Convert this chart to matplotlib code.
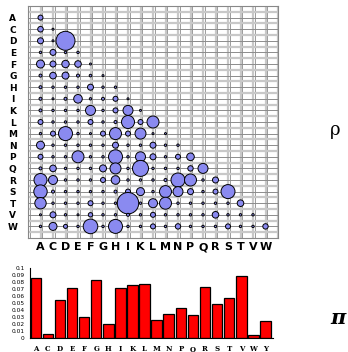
import numpy as np
import matplotlib.pyplot as plt

# amino acid labels
aa = ["A", "C", "D", "E", "F", "G", "H", "I", "K", "L",
      "M", "N", "P", "Q", "R", "S", "T", "V", "W"]
aa_bar = aa + ["Y"]

rho = [
    [2.5],
    [2.8, 1.0],
    [3.0, 1.0, 9.5],
    [1.2, 3.0, 1.2, 1.2],
    [4.0, 3.0, 3.7, 3.3, 1.0],
    [1.5, 3.3, 3.5, 1.5, 1.3, 1.0],
    [1.5, 1.2, 1.2, 1.2, 3.0, 1.2, 1.2],
    [1.5, 1.0, 1.5, 4.3, 1.2, 1.5, 2.5, 1.0],
    [1.5, 1.2, 1.2, 1.2, 5.0, 1.2, 2.5, 5.0, 1.0],
    [2.5, 1.2, 1.2, 1.2, 2.5, 1.2, 1.5, 6.5, 2.5, 6.0],
    [1.2, 2.5, 7.0, 1.2, 1.0, 2.5, 6.0, 2.5, 5.5, 1.0, 1.0],
    [4.0, 1.2, 1.2, 1.2, 1.2, 1.2, 3.0, 1.2, 1.2, 3.0, 1.2, 1.2],
    [2.5, 1.2, 1.2, 6.0, 1.2, 1.2, 7.0, 1.2, 5.0, 3.0, 1.2, 2.5, 3.8],
    [1.5, 3.3, 1.2, 1.2, 1.2, 3.5, 5.5, 1.2, 8.0, 1.2, 1.2, 1.2, 2.7, 5.0],
    [6.5, 4.5, 1.2, 1.2, 1.2, 2.5, 4.3, 1.2, 1.2, 1.2, 1.5, 7.0, 6.0, 1.2, 3.0],
    [6.7, 1.5, 1.2, 1.2, 1.2, 1.2, 1.5, 2.5, 4.0, 1.2, 6.0, 5.0, 3.0, 1.2, 2.5, 7.0],
    [5.7, 1.2, 1.2, 1.2, 2.5, 1.2, 1.2, 10.7, 1.2, 4.5, 6.0, 1.2, 1.2, 1.2, 1.2, 1.2, 3.3],
    [1.0, 3.0, 1.2, 1.0, 2.2, 1.2, 1.2, 1.5, 1.2, 2.5, 1.2, 1.2, 1.2, 1.2, 3.3, 1.2, 1.2, 1.2],
    [1.2, 4.0, 2.0, 1.2, 7.3, 1.2, 7.0, 1.2, 1.2, 2.5, 1.2, 2.7, 1.2, 1.2, 1.2, 2.5, 1.2, 1.2, 2.7],
]

# pi: frequencies
pi_freq = [0.0867, 0.0057, 0.0543, 0.0714, 0.0300, 0.0838, 0.0205, 0.0714,
           0.0767, 0.0776, 0.0252, 0.0343, 0.0429, 0.0333, 0.0729, 0.0486,
           0.0581, 0.0890, 0.0048, 0.0248]

W, H = 348, 352
fig = plt.figure(figsize=(W / 100, H / 100), dpi=100)

# bubble matrix
ax = fig.add_axes([28 / W, 1 - 238 / H, 250 / W, 232 / H])
ax.set_xlim(-1, 19)
ax.set_ylim(19, -1)
for v in np.arange(-1, 19.01, 1):
    ax.axvline(v, color="#c8c8c8", lw=1.6, zorder=0)
    ax.axvline(v + 0.12, color="#8c8c8c", lw=0.6, zorder=0)
for h in np.arange(-1, 19.01, 0.5):
    if h % 1 == 0:
        ax.axhline(h, color="#8c8c8c", lw=0.7, zorder=0)
    else:
        ax.axhline(h, color="#c8c8c8", lw=1.6, zorder=0)

xs, ys, ss = [], [], []
for i, row in enumerate(rho):
    for j, r in enumerate(row):
        xs.append(j)
        ys.append(i)
        ss.append((1.44 * r) ** 2)
ax.scatter(xs, ys, s=ss, c="#8a8af0", edgecolors="black", linewidths=0.7,
           zorder=3)

ax.set_xticks(range(len(aa)))
ax.set_xticklabels(aa, fontsize=8, fontweight="bold")
ax.set_yticks(range(len(aa)))
ax.set_yticklabels(aa, fontsize=6.5, fontweight="bold", ha="center")
ax.tick_params(axis="x", length=0, pad=3)
ax.tick_params(axis="y", length=0, pad=11)
for s in ax.spines.values():
    s.set_color("#888888")
    s.set_linewidth(0.8)

# frequency bars
bx = fig.add_axes([30 / W, 1 - 338 / H, 242.7 / W, 69.7 / H])
bx.bar(range(len(aa_bar)), pi_freq, width=0.87, color="#ff0000",
       edgecolor="black", linewidth=0.9)
bx.set_xlim(-0.48, 19.6)
bx.set_ylim(0, 0.1)
yt = np.linspace(0, 0.1, 11)
bx.set_yticks(yt)
bx.set_yticklabels([f"{round(t, 2):g}" for t in yt], fontsize=4.2)
bx.set_xticks(range(len(aa_bar)))
bx.set_xticklabels(aa_bar, fontsize=5, fontweight="bold", family="DejaVu Serif")
bx.tick_params(axis="y", length=0, pad=4)
bx.tick_params(axis="x", length=0, pad=5)
bx.spines["top"].set_visible(False)
bx.spines["right"].set_visible(False)

fig.text(335 / W, 1 - 130 / H, "ρ", fontsize=13, family="DejaVu Serif",
         ha="center", va="center")
fig.text(338 / W, 1 - 318 / H, "π", fontsize=15, family="DejaVu Serif",
         style="italic", fontweight="bold", ha="center", va="center")

fig.savefig("out.png", dpi=100)
